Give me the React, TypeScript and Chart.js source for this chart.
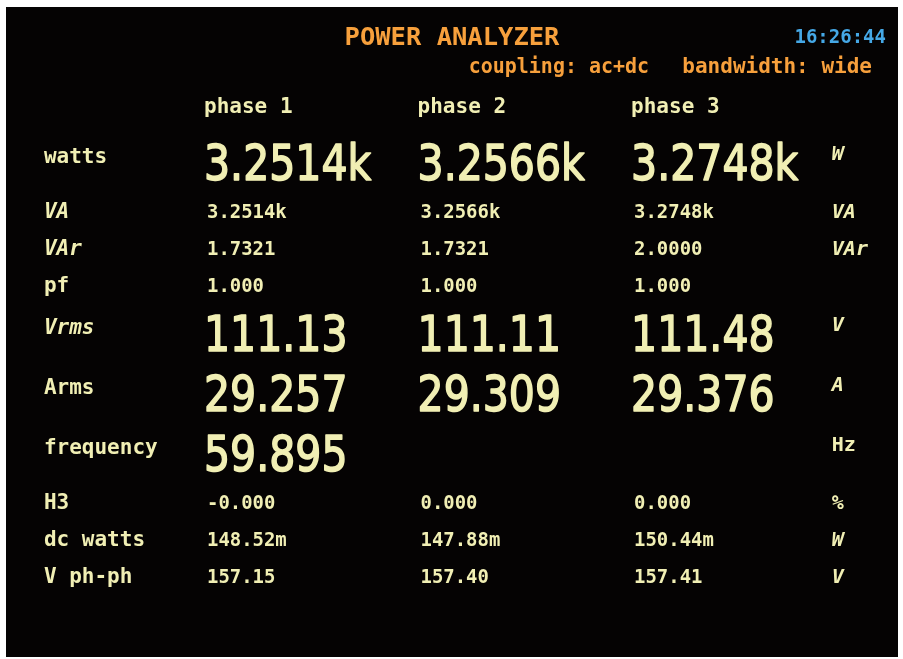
import { useEffect, useRef } from "react";
import { Chart, registerables } from "chart.js";

Chart.register(...registerables);

// ---------- data ----------
const titleText = "POWER ANALYZER";
const clockText = "16:26:44";
const couplingText = "coupling: ac+dc";
const bandwidthText = "bandwidth: wide";
const phaseLabels = ["phase 1", "phase 2", "phase 3"];
const rowLabels = ["watts", "VA", "VAr", "pf", "Vrms", "Arms", "frequency", "H3", "dc watts", "V ph-ph"];
const unitLabels = ["W", "VA", "VAr", "", "V", "A", "Hz", "%", "W", "V"];
const phase1Values = ["3.2514k", "3.2514k", "1.7321", "1.000", "111.13", "29.257", "59.895", "-0.000", "148.52m", "157.15"];
const phase2Values = ["3.2566k", "3.2566k", "1.7321", "1.000", "111.11", "29.309", "", "0.000", "147.88m", "157.40"];
const phase3Values = ["3.2748k", "3.2748k", "2.0000", "1.000", "111.48", "29.376", "", "0.000", "150.44m", "157.41"];
const largeRows = [true, false, false, false, true, true, true, false, false, false];
const italicLabels = [false, true, true, false, true, false, false, false, false, false];
const italicUnits = [true, true, true, false, true, true, false, false, true, true];

// ---------- layout / style ----------
const W = 903;
const H = 659;
const ROW_H_BIG = 60;
const ROW_H_SMALL = 37;
const YELLOW = "#f1efb4";
const ORANGE = "#f7a03c";
const BLUE = "#45a8e6";
const MONO = "'DejaVu Sans Mono', monospace";
const SANS = "'DejaVu Sans', sans-serif";

const rowPos: number[] = [];
largeRows.forEach((big, i) => {
  if (i === 0) rowPos.push(0);
  else {
    const hPrev = largeRows[i - 1] ? ROW_H_BIG : ROW_H_SMALL;
    const hCur = big ? ROW_H_BIG : ROW_H_SMALL;
    rowPos.push(rowPos[i - 1] + (hPrev + hCur) / 2);
  }
});

const LABEL_COL = 0.25;
const UNIT_COL = 3.94;
const TITLE_BASE = -117;
const CLOCK_BASE = -119;
const SUB_BASE = -89;
const HEADER_BASE = -49;

const phaseValues = [phase1Values, phase2Values, phase3Values];

function drawText(
  ctx: CanvasRenderingContext2D,
  text: string,
  x: number,
  y: number,
  font: string,
  color: string,
  align: CanvasTextAlign = "left",
  sx = 1,
  stroke = 0
) {
  ctx.save();
  ctx.font = font;
  ctx.fillStyle = color;
  ctx.textAlign = align;
  ctx.textBaseline = "alphabetic";
  ctx.translate(x, y);
  ctx.scale(sx, 1);
  ctx.fillText(text, 0, 0);
  if (stroke > 0) {
    ctx.strokeStyle = color;
    ctx.lineWidth = stroke;
    ctx.lineJoin = "round";
    ctx.strokeText(text, 0, 0);
  }
  ctx.restore();
}

const panelPlugin = {
  id: "panel",
  beforeDraw(chart: any) {
    const { ctx, chartArea } = chart;
    ctx.save();
    ctx.fillStyle = "#ffffff";
    ctx.fillRect(0, 0, chart.width, chart.height);
    ctx.fillStyle = "#050303";
    ctx.fillRect(chartArea.left, chartArea.top, chartArea.right - chartArea.left, chartArea.bottom - chartArea.top);
    ctx.restore();
  },
  afterDatasetsDraw(chart: any) {
    const { ctx, chartArea } = chart;
    const xs = chart.scales.x;
    const ys = chart.scales.y;
    const cx = (chartArea.left + chartArea.right) / 2;

    // header
    drawText(ctx, titleText, cx, ys.getPixelForValue(TITLE_BASE), `bold 25px ${MONO}`, ORANGE, "center", 1.02);
    drawText(ctx, clockText, chartArea.right - 12, ys.getPixelForValue(CLOCK_BASE), `bold 20px ${MONO}`, BLUE, "right", 0.95);
    drawText(ctx, couplingText, xs.getPixelForValue(2.24), ys.getPixelForValue(SUB_BASE), `bold 21px ${MONO}`, ORANGE, "left", 0.95);
    drawText(ctx, bandwidthText, xs.getPixelForValue(3.24), ys.getPixelForValue(SUB_BASE), `bold 21px ${MONO}`, ORANGE, "left");
    phaseLabels.forEach((p, i) => {
      drawText(ctx, p, xs.getPixelForValue(i + 1), ys.getPixelForValue(HEADER_BASE), `bold 21px ${MONO}`, YELLOW, "left");
    });

    // row labels and units
    rowLabels.forEach((lab, i) => {
      const big = largeRows[i];
      const y = ys.getPixelForValue(rowPos[i]) + 21 * 0.729 / 2 + (big ? -7 : 0);
      drawText(ctx, lab, xs.getPixelForValue(LABEL_COL), y, `${italicLabels[i] ? "italic " : ""}bold 21px ${MONO}`, YELLOW, "left");
      const u = unitLabels[i];
      if (u) {
        const yu = ys.getPixelForValue(rowPos[i]) + 21 * 0.729 / 2 + (big ? -10 : 0);
        drawText(ctx, u, xs.getPixelForValue(UNIT_COL), yu, `${italicUnits[i] ? "italic " : ""}bold 20px ${MONO}`, YELLOW, "left");
      }
    });

    // values (positioned by the dataset elements)
    chart.data.datasets.forEach((ds: any, di: number) => {
      const meta = chart.getDatasetMeta(di);
      meta.data.forEach((el: any, j: number) => {
        const raw = ds.data[j];
        const big = largeRows[raw.row];
        if (big) {
          const size = 50;
          drawText(ctx, raw.label, el.x, el.y + size * 0.729 / 2, `${size}px ${SANS}`, YELLOW, "left", 0.82, 1.6);
        } else {
          const size = 19.5;
          drawText(ctx, raw.label, el.x + 3, el.y + size * 0.729 / 2, `bold ${size}px ${MONO}`, YELLOW, "left", 0.97);
        }
      });
    });
  },
};

export default function App() {
  const ref = useRef<HTMLCanvasElement>(null);
  useEffect(() => {
    if (!ref.current) return;
    const datasets = phaseValues.map((vals, c) => ({
      label: phaseLabels[c],
      data: vals
        .map((v, r) => ({ x: c + 1, y: rowPos[r], label: v, row: r }))
        .filter((d) => d.label !== ""),
      pointRadius: 0,
      pointHoverRadius: 0,
      showLine: false,
    }));
    const chart = new Chart(ref.current, {
      type: "scatter",
      data: { datasets },
      options: {
        responsive: false,
        animation: false,
        events: [],
        layout: { padding: { left: 6, top: 7, right: 5, bottom: 2 } },
        plugins: { legend: { display: false }, tooltip: { enabled: false }, title: { display: false } },
        scales: {
          x: { type: "linear", display: false, min: 0.0726, max: 4.25 },
          y: { type: "linear", display: false, reverse: true, min: -155, max: 495 },
        },
      },
      plugins: [panelPlugin],
    } as any);
    return () => chart.destroy();
  }, []);
  return (
    <div style={{ position: "fixed", left: 0, top: 0, width: W, height: H, background: "#fff" }}>
      <canvas ref={ref} width={W} height={H} style={{ display: "block", width: W, height: H }} />
    </div>
  );
}
